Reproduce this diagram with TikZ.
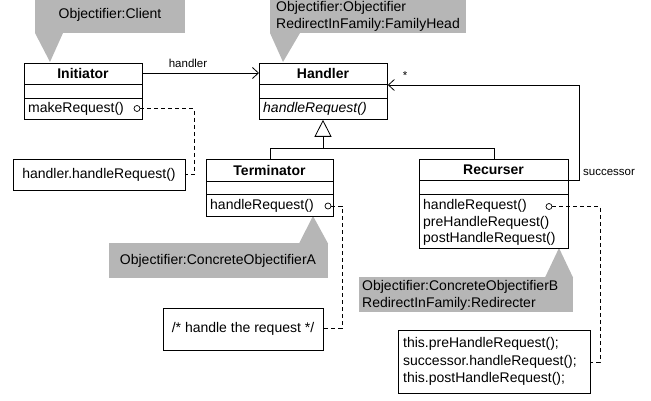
\documentclass[tikz,border=0pt]{standalone}
\usepackage{fontspec}
\setmainfont{Liberation Sans}
\usetikzlibrary{arrows.meta}
\definecolor{notegray}{RGB}{182,182,182}
\tikzset{
  x=1pt, y=-1pt,
  every node/.style={font=\fontsize{14}{17}\selectfont, inner sep=0pt},
  boxline/.style={draw=black, line width=0.8pt},
  classbox/.style={boxline, fill=white, anchor=north west},
  titletxt/.style={font=\fontsize{14}{17}\selectfont\bfseries},
  methtxt/.style={anchor=west},
  smalltxt/.style={font=\fontsize{11.5}{13}\selectfont},
  notefill/.style={fill=notegray, draw=none},
  dashline/.style={draw=black, line width=0.8pt, dash pattern=on 4pt off 3pt},
  assoc/.style={line width=0.8pt, -{Straight Barb[length=6pt,width=11pt]}},
  gen/.style={line width=0.8pt, -{Triangle[open,length=17pt,width=17pt,fill=white]}},
  port/.style={circle, draw=black, line width=0.7pt, fill=white, minimum size=6pt},
}
\begin{document}
\begin{tikzpicture}
\useasboundingbox (0,0) rectangle (651,401);

% ---- role notes (grey callouts) ----
\fill[notegray] (35,0) rectangle (185,33);
\fill[notegray] (35,33) -- (63,33) -- (50,62) -- cycle;
\node (noteclient) at (110,15) {Objectifier:Client};

\fill[notegray] (270,0) rectangle (466,33);
\fill[notegray] (270,33) -- (300,33) -- (283,62) -- cycle;
\node[anchor=west, align=left] (notehandler) at (276,16)
  {Objectifier:Objectifier\\RedirectInFamily:FamilyHead};

\fill[notegray] (109,243) rectangle (328,278);
\fill[notegray] (299,243.5) -- (328,243.5) -- (313,216) -- cycle;
\node (noteterm) at (218,260.5) {Objectifier:ConcreteObjectifierA};

\fill[notegray] (359,277) rectangle (573,312);
\fill[notegray] (545,277.5) -- (573,277.5) -- (559,248) -- cycle;
\node[anchor=west, align=left] (noterec) at (362,295)
  {Objectifier:ConcreteObjectifierB\\RedirectInFamily:Redirecter};

% ---- Initiator ----
\node[classbox, minimum width=118, minimum height=56] (init) at (24,63) {};
\draw[boxline] (24,84) -- (142,84) (24,98) -- (142,98);
\node[titletxt] (initname) at (83,73.5) {Initiator};
\node[methtxt] (initm) at (28,108.5) {makeRequest()};
\node[port] (initp) at (137,108.5) {};

% ---- Handler ----
\node[classbox, minimum width=128, minimum height=56] (hand) at (259,63) {};
\draw[boxline] (259,84) -- (387,84) (259,98) -- (387,98);
\node[titletxt] (handname) at (323,73.5) {Handler};
\node[methtxt, font=\fontsize{14}{17}\selectfont\itshape] (handm) at (263,108.5) {handleRequest()};

% ---- Terminator ----
\node[classbox, minimum width=127, minimum height=57] (term) at (206,159) {};
\draw[boxline] (206,181) -- (333,181) (206,194) -- (333,194);
\node[titletxt] (termname) at (269.5,170) {Terminator};
\node[methtxt] (termm) at (210,205.5) {handleRequest()};
\node[port] (termp) at (328,206) {};

% ---- Recurser ----
\node[classbox, minimum width=149, minimum height=89] (rec) at (419,159) {};
\draw[boxline] (419,180) -- (568,180) (419,194) -- (568,194);
\node[titletxt] (recname) at (493.5,169.5) {Recurser};
\node[methtxt] (recm1) at (423,206) {handleRequest()};
\node[methtxt] (recm2) at (423,222.5) {preHandleRequest()};
\node[methtxt] (recm3) at (423,239) {postHandleRequest()};
\node[port] (recp) at (549,206.5) {};

% ---- code notes ----
\node[classbox, minimum width=172, minimum height=31] (initcode) at (13,159) {};
\node (initcodetxt) at (99,174.5) {handler.handleRequest()};

\node[classbox, minimum width=160, minimum height=42] (termcode) at (163,308) {};
\node (termcodetxt) at (243,328.5) {/* handle the request */};

\node[classbox, minimum width=192, minimum height=63] (reccode) at (398,330) {};
\node[anchor=west, align=left, font=\fontsize{14}{17.5}\selectfont] (reccodetxt) at (403,361.5)
  {this.preHandleRequest();\\successor.handleRequest();\\this.postHandleRequest();};

% ---- dashed links from methods to their code ----
\coordinate (d1a) at (194,108.5);
\coordinate (d1b) at (194,174.5);
\draw[dashline] (initp.east) -- (d1a) -- (d1b) -- (initcode.east |- d1b);

\coordinate (d2a) at (342,206);
\coordinate (d2b) at (342,328.5);
\draw[dashline] (termp.east) -- (d2a) -- (d2b) -- (termcode.east |- d2b);

\coordinate (d3a) at (600,206.5);
\coordinate (d3b) at (600,362);
\draw[dashline] (recp.east) -- (d3a) -- (d3b) -- (reccode.east |- d3b);

% ---- associations ----
\draw[assoc] (init.east |- 0,73) -- (hand.west |- 0,73);
\node[smalltxt] (lblhandler) at (188,63) {handler};

\coordinate (s1) at (579,180);
\coordinate (s2) at (579,85);
\draw[assoc] (rec.east |- s1) -- (s1) -- (s2) -- (hand.east |- s2);
\node[smalltxt, anchor=west] (lblsucc) at (583,172) {successor};
\node[smalltxt] (lblstar) at (405,76) {*};

% ---- generalization ----
\coordinate (g0) at (323,148);
\coordinate (gl) at (270,148);
\coordinate (gr) at (494,148);
\draw[line width=0.8pt] (term.north -| gl) -- (gl) -- (gr) -- (rec.north -| gr);
\draw[gen] (g0) -- (hand.south -| g0);
\end{tikzpicture}
\end{document}
